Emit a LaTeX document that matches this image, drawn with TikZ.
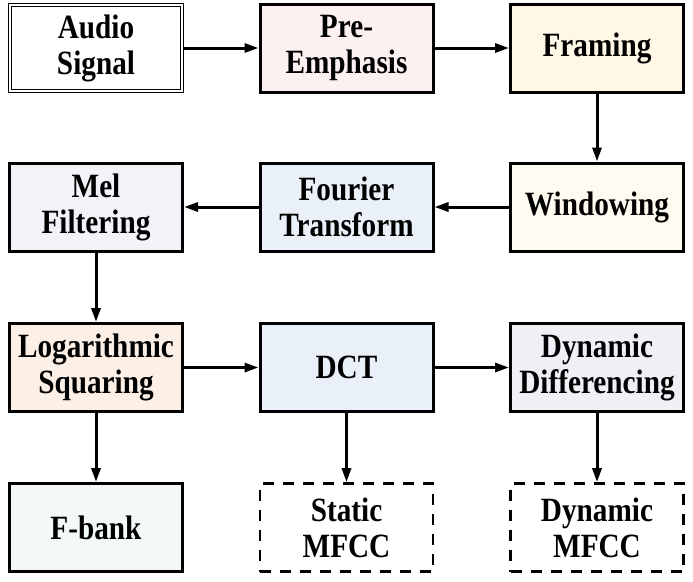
\documentclass[tikz,border=0pt]{standalone}
\usepackage{fontspec}
\setmainfont{Liberation Serif}[FakeStretch=0.86]
\usetikzlibrary{arrows.meta}
\definecolor{cpre}{HTML}{FDF0F0}
\definecolor{cfram}{HTML}{FFF8E7}
\definecolor{cwin}{HTML}{FFFBF0}
\definecolor{cmel}{HTML}{F3F2F8}
\definecolor{cfour}{HTML}{EAF0F8}
\definecolor{clog}{HTML}{FBEFE6}
\definecolor{cdct}{HTML}{EAF0F8}
\definecolor{cdyn}{HTML}{EFF0F5}
\definecolor{cfb}{HTML}{F3FAF5}
\tikzset{
  blk/.style={draw=black, line width=3pt, minimum width=173pt, minimum height=88pt,
    inner sep=0pt, align=center, font=\fontsize{34}{36}\selectfont\bfseries},
  dblk/.style={blk, line width=2.6pt, dash pattern=on 11pt off 9pt},
  arr/.style={line width=3pt, -{Triangle[length=14pt,width=9pt]}},
}
\begin{document}
\begin{tikzpicture}[x=1pt,y=-1pt]
\useasboundingbox (0,0) rectangle (693,581);
\node[blk, line width=1.2pt, double, double distance=1.4pt, minimum width=172pt, minimum height=86pt] (audio) at (96,48) {Audio\\Signal};
\node[blk, fill=cpre] (pre) at (346.5,48) {Pre-\\Emphasis};
\node[blk, fill=cfram] (fram) at (597,48) {Framing};
\node[blk, fill=cmel] (mel) at (96,207) {Mel\\Filtering};
\node[blk, fill=cfour] (four) at (346.5,207) {Fourier\\Transform};
\node[blk, fill=cwin] (win) at (597,207) {Windowing};
\node[blk, fill=clog] (log) at (96,367.5) {Logarithmic\\Squaring};
\node[blk, fill=cdct] (dct) at (346.5,367.5) {DCT};
\node[blk, fill=cdyn] (dyn) at (597,367.5) {Dynamic\\Differencing};
\node[blk, fill=cfb] (fb) at (96,527.5) {F-bank};
\node[dblk] (smf) at (346.5,527.5) {Static\\MFCC};
\node[dblk] (dmf) at (597,527.5) {Dynamic\\MFCC};
\draw[arr] (audio) -- (pre);
\draw[arr] (pre) -- (fram);
\draw[arr] (fram) -- (win);
\draw[arr] (win) -- (four);
\draw[arr] (four) -- (mel);
\draw[arr] (mel) -- (log);
\draw[arr] (log) -- (dct);
\draw[arr] (dct) -- (dyn);
\draw[arr] (log) -- (fb);
\draw[arr] (dct) -- (smf);
\draw[arr] (dyn) -- (dmf);
\end{tikzpicture}
\end{document}
